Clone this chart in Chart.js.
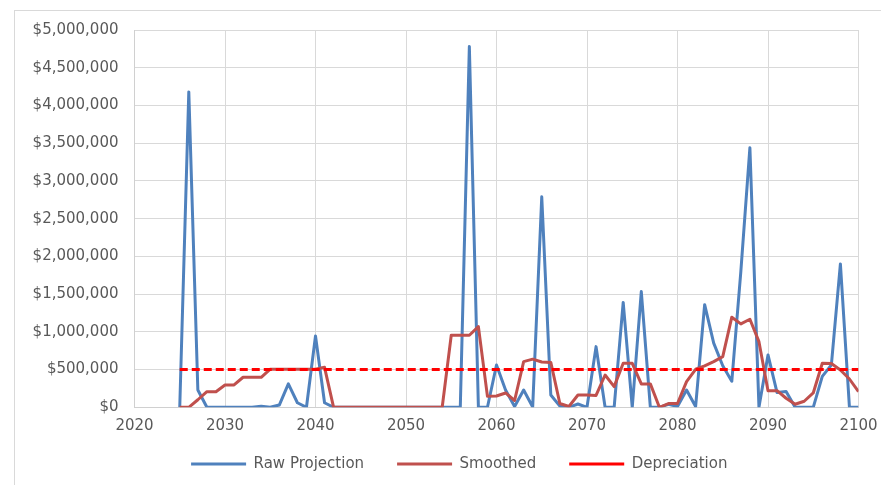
<!DOCTYPE html>
<html>
<head>
<meta charset="utf-8">
<script src="https://cdn.jsdelivr.net/npm/chart.js@4"></script>
<style>
  html, body { margin: 0; padding: 0; background: #ffffff; overflow: hidden; }
  #frame { position: absolute; left: 14px; top: 10px; width: 900px; height: 500px; border: 1px solid #D9D9D9; box-sizing: border-box; }
  #c { position: absolute; left: 0; top: 0; }
</style>
</head>
<body>
<div id="frame"></div>
<canvas id="c" width="881" height="485"></canvas>
<script>
// Years 2025..2100
const years = [];
for (let y = 2025; y <= 2100; y++) years.push(y);

const rawProjection = [
  0, 4180000, 230000, 0, 0, 0, 0, 0, 0, 15000,            // 2025-2034
  0, 30000, 310000, 60000, 0, 945000, 60000, 0, 0, 0,      // 2035-2044
  0, 0, 0, 0, 0, 0, 0, 0, 0, 0,                            // 2045-2054
  0, 0, 4780000, 0, 0, 560000, 230000, 10000, 229000, 5000, // 2055-2064
  2790000, 163000, 15000, 0, 44000, 0, 804000, 0, 0, 1390000, // 2065-2074
  0, 1533000, 0, 0, 40000, 10000, 229000, 10000, 1360000, 850000, // 2075-2084
  550000, 345000, 1800000, 3440000, 0, 694000, 195000, 210000, 0, 0, // 2085-2094
  0, 410000, 560000, 1900000, 0, 0                         // 2095-2100
];

const smoothed = [
  0, 0, 100000, 207000, 207000, 296000, 296000, 398000, 398000, 398000, // 2025-2034
  505000, 505000, 505000, 505000, 505000, 505000, 530000, 0, 0, 0,      // 2035-2044
  0, 0, 0, 0, 0, 0, 0, 0, 0, 0,                                          // 2045-2054
  955000, 955000, 955000, 1069000, 145000, 150000, 190000, 90000, 605000, 638000, // 2055-2064
  600000, 595000, 50000, 10000, 163000, 163000, 158000, 428000, 274000, 583000,   // 2065-2074
  583000, 310000, 310000, 0, 50000, 50000, 340000, 504000, 548000, 605000,        // 2075-2084
  671000, 1194000, 1105000, 1167000, 870000, 220000, 220000, 120000, 40000, 80000, // 2085-2094
  190000, 583000, 580000, 495000, 375000, 207000                                  // 2095-2100
];

const depreciation = years.map(() => 500000);

const xTicks = [2020, 2030, 2040, 2050, 2060, 2070, 2080, 2090, 2100];

const seriesNames = ['Raw Projection', 'Smoothed', 'Depreciation'];

const toPts = arr => years.map((y, i) => ({ x: y, y: arr[i] }));

const FONT = 'DejaVu Sans';
const TXT = '#595959';
const GRID = '#D9D9D9';

// place the legend row where the reference has it
const legendPlacer = {
  id: 'legendPlacer',
  afterLayout(chart) {
    const l = chart.legend;
    if (!l) return;
    l.top = 423.5; l.bottom = 483;
    l.left = 60; l.right = 858.5;
  }
};

new Chart(document.getElementById('c'), {
  type: 'line',
  data: {
    datasets: [
      { label: seriesNames[0], data: toPts(rawProjection), borderColor: '#4F81BD', backgroundColor: '#4F81BD',
        borderWidth: 3, pointRadius: 0, tension: 0, order: 3, borderJoinStyle: 'round' },
      { label: seriesNames[1], data: toPts(smoothed), borderColor: '#C0504D', backgroundColor: '#C0504D',
        borderWidth: 3, pointRadius: 0, tension: 0, order: 2, borderJoinStyle: 'round' },
      { label: seriesNames[2], data: toPts(depreciation), borderColor: '#FF0000', backgroundColor: '#FF0000',
        borderWidth: 3, borderDash: [8, 4], pointRadius: 0, tension: 0, order: 1 }
    ]
  },
  plugins: [legendPlacer],
  options: {
    responsive: false,
    animation: false,
    devicePixelRatio: 1,
    layout: { autoPadding: false, padding: { left: 0, top: 30, right: 22.5, bottom: 0 } },
    plugins: {
      tooltip: { enabled: false },
      legend: {
        position: 'bottom',
        maxHeight: 48,
        labels: {
          usePointStyle: true,
          pointStyle: 'line',
          pointStyleWidth: 55,
          padding: 33,
          color: TXT,
          font: { family: FONT, size: 15 },
          sort: (a, b) => a.datasetIndex - b.datasetIndex
        }
      }
    },
    scales: {
      x: {
        type: 'linear',
        min: 2020, max: 2100,
        afterBuildTicks: s => { s.ticks = xTicks.map(v => ({ value: v })); },
        afterFit: s => { s.height = 29.7; },
        grid: { color: GRID, lineWidth: 1, drawTicks: true, tickLength: 7, tickColor: 'rgba(0,0,0,0)' },
        border: { color: '#D0D0D0', width: 1 },
        ticks: { color: TXT, font: { family: FONT, size: 15 }, padding: 3, maxRotation: 0,
                 callback: v => String(v) }
      },
      y: {
        min: 0, max: 5000000,
        ticks: { stepSize: 500000, color: TXT, font: { family: FONT, size: 15 }, padding: 16,
                 callback: v => '$' + Number(v).toLocaleString('en-US') },
        afterFit: s => { s.width = 134.5; },
        grid: { color: GRID, lineWidth: 1, drawTicks: false },
        border: { color: '#D0D0D0', width: 1 }
      }
    }
  }
});
</script>
</body>
</html>
